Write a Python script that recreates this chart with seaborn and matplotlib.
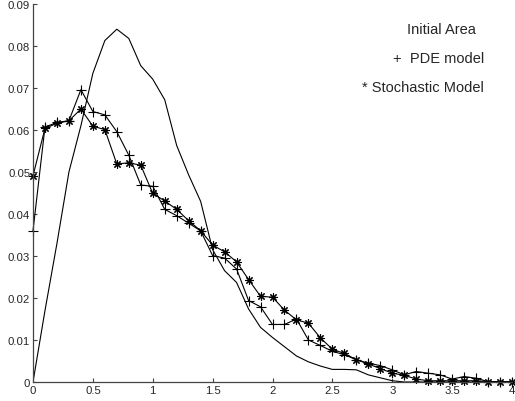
"""
Initial area vs PDE model vs stochastic model - area distribution curves
"""

import numpy as np
import matplotlib
matplotlib.use('Agg')
import matplotlib.pyplot as plt
import seaborn as sns

sns.set_style("ticks")
plt.rcParams['font.family'] = ['Liberation Sans', 'DejaVu Sans']
plt.rcParams['xtick.direction'] = 'in'
plt.rcParams['ytick.direction'] = 'in'

# ─────────────────────────────────────────────
# DATA (x grid step 0.1)
# ─────────────────────────────────────────────
x_vals = np.round(np.arange(0, 4.01, 0.1), 1)

initial_area = [0, 0.017, 0.033, 0.050, 0.061, 0.0735, 0.0813, 0.0840, 0.0818, 0.0753,
                0.0721, 0.0672, 0.0563, 0.0493, 0.0430, 0.0315, 0.0265, 0.0237, 0.0174, 0.0130,
                0.0106, 0.0084, 0.0062, 0.0048, 0.0038, 0.0030, 0.0030, 0.0029, 0.0017, 0.0010,
                0.0003, 0, 0, 0, 0, 0, 0, 0, 0, 0, 0]

pde_model = [0.0360, 0.0607, 0.0618, 0.0622, 0.0696, 0.0644, 0.0636, 0.0596, 0.0540, 0.0469,
             0.0466, 0.0411, 0.0396, 0.0378, 0.0360, 0.0301, 0.0295, 0.0269, 0.0194, 0.0179,
             0.0137, 0.0137, 0.0150, 0.0100, 0.0087, 0.0073, 0.0065, 0.0053, 0.0045, 0.0039,
             0.0029, 0.0017, 0.0025, 0.0021, 0.0017, 0.0007, 0.0013, 0.0009, 0.0001, 0.0001,
             0.0001]

stochastic_model = [0.0491, 0.0604, 0.0616, 0.0622, 0.0650, 0.0609, 0.0601, 0.0519, 0.0522, 0.0516,
                    0.0449, 0.0431, 0.0411, 0.0384, 0.0360, 0.0326, 0.0310, 0.0286, 0.0244, 0.0204,
                    0.0202, 0.0171, 0.0148, 0.0140, 0.0105, 0.0078, 0.0068, 0.0053, 0.0043, 0.0032,
                    0.0021, 0.0016, 0.0007, 0.0003, 0.0003, 0.0003, 0.0003, 0.0003, 0.0001, 0.0001,
                    0.0001]

x_ticks = [0, 0.5, 1, 1.5, 2, 2.5, 3, 3.5, 4]
x_tick_labels = ["0", "0.5", "1", "1.5", "2", "2.5", "3", "3.5", "4"]
y_ticks = [0, 0.01, 0.02, 0.03, 0.04, 0.05, 0.06, 0.07, 0.08, 0.09]
y_tick_labels = ["0", "0.01", "0.02", "0.03", "0.04", "0.05", "0.06", "0.07", "0.08", "0.09"]

legend_labels = ["Initial Area", "+  PDE model", "* Stochastic Model"]

# ─────────────────────────────────────────────
# PLOT
# ─────────────────────────────────────────────
fig = plt.figure(figsize=(5.15, 4.02), dpi=100)
ax = fig.add_axes([33 / 515, 19 / 402, 479 / 515, 378 / 402])

line_kw = dict(color='black', linewidth=0.8, ax=ax, estimator=None, sort=False)
sns.lineplot(x=x_vals, y=initial_area, **line_kw)
sns.lineplot(x=x_vals, y=pde_model, marker='+', markersize=7, markeredgewidth=0.8,
             markeredgecolor='black', clip_on=False, **line_kw)
sns.lineplot(x=x_vals, y=stochastic_model, marker=(8, 2, 0), markersize=6, markeredgewidth=0.8,
             markeredgecolor='black', clip_on=False, **line_kw)

ax.set_xlim(0, 4)
ax.set_ylim(0, 0.09)
ax.set_xticks(x_ticks)
ax.set_xticklabels(x_tick_labels)
ax.set_yticks(y_ticks)
ax.set_yticklabels(y_tick_labels)
ax.tick_params(labelsize=8.2, length=3, width=0.8, color='#444444', pad=2)
sns.despine(ax=ax)
for s in ['left', 'bottom']:
    ax.spines[s].set_linewidth(0.9)
    ax.spines[s].set_color('#444444')

# text legend at the top right
legend_pos = [(407, 30), (393, 59), (362, 88.5)]
for (px, py), txt in zip(legend_pos, legend_labels):
    fig.text(px / 515, 1 - py / 402, txt, fontsize=10.5, ha='left', va='center')

plt.savefig("out.png", dpi=100)
plt.close()
